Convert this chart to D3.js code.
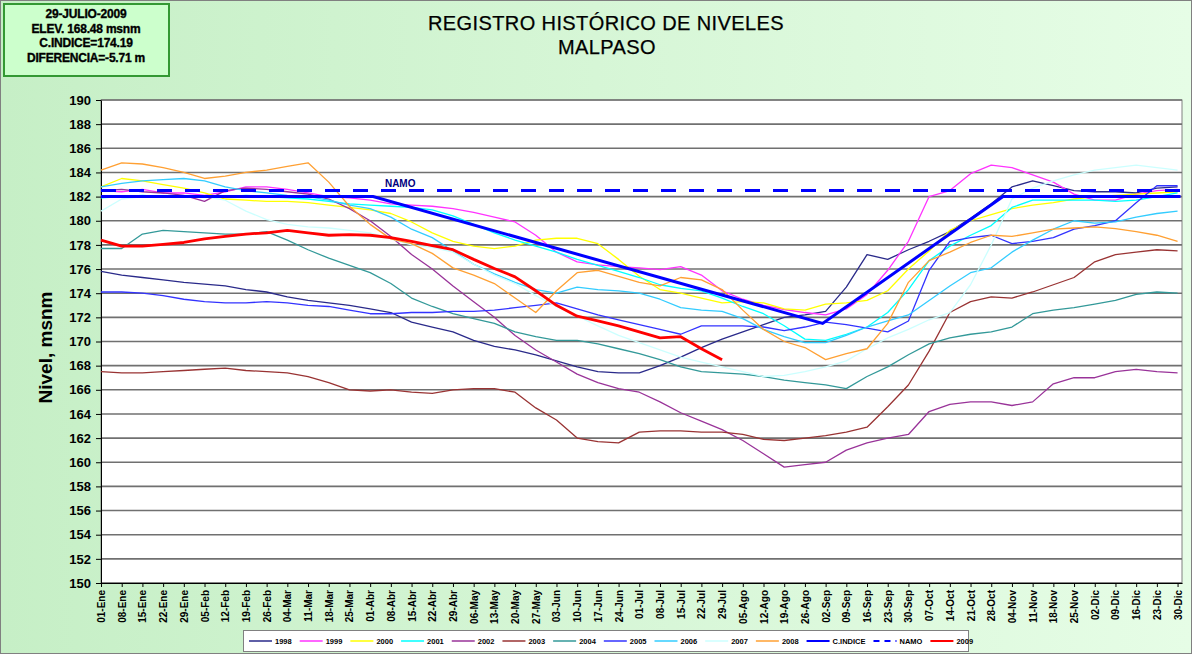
<!DOCTYPE html>
<html>
<head>
<meta charset="utf-8">
<script src="https://cdn.jsdelivr.net/npm/d3@7"></script>
<style>
  body { margin: 0; background: #fff; }
  svg { display: block; font-family: 'Liberation Sans', Arial, sans-serif; }
</style>
</head>
<body>
<svg id="chart" width="1200" height="654"></svg>
<script>
// weekly tick labels (one per 7 days, starting 01-Ene)
const tickLabels = [
  '01-Ene', '08-Ene', '15-Ene', '22-Ene', '29-Ene', '05-Feb', '12-Feb', '19-Feb', '26-Feb',
  '04-Mar', '11-Mar', '18-Mar', '25-Mar', '01-Abr', '08-Abr', '15-Abr', '22-Abr', '29-Abr',
  '06-May', '13-May', '20-May', '27-May', '03-Jun', '10-Jun', '17-Jun', '24-Jun',
  '01-Jul', '08-Jul', '15-Jul', '22-Jul', '29-Jul', '05-Ago', '12-Ago', '19-Ago', '26-Ago',
  '02-Sep', '09-Sep', '16-Sep', '23-Sep', '30-Sep', '07-Oct', '14-Oct', '21-Oct', '28-Oct',
  '04-Nov', '11-Nov', '18-Nov', '25-Nov', '02-Dic', '09-Dic', '16-Dic', '23-Dic', '30-Dic'
];
const yTicks = [150, 152, 154, 156, 158, 160, 162, 164, 166, 168, 170, 172, 174, 176, 178, 180, 182, 184, 186, 188, 190];

// levels (msnm) read at each weekly tick
const s1998 = [175.8, 175.5, 175.3, 175.1, 174.9, 174.75, 174.6, 174.3, 174.1, 173.7, 173.4, 173.2, 173.0, 172.7, 172.4, 171.6, 171.2, 170.8, 170.1, 169.6, 169.3, 168.9, 168.4, 167.9, 167.5, 167.4, 167.4, 168.0, 168.7, 169.5, 170.2, 170.8, 171.4, 172.0, 172.2, 172.5, 174.5, 177.2, 176.8, 177.6, 178.3, 179.1, 180.2, 181.4, 182.8, 183.3, 182.9, 182.5, 182.4, 182.4, 182.3, 182.7, 182.8];
const s1999 = [182.5, 182.4, 182.6, 182.3, 182.3, 182.1, 182.4, 182.8, 182.8, 182.6, 182.3, 182.0, 181.9, 181.7, 181.4, 181.3, 181.2, 181.0, 180.7, 180.3, 179.9, 178.8, 177.4, 176.6, 176.35, 176.2, 176.1, 175.95, 176.2, 175.5, 174.2, 173.5, 173.0, 172.65, 172.4, 172.2, 172.7, 173.9, 175.9, 178.3, 182.0, 182.5, 183.9, 184.6, 184.4, 183.8, 183.2, 182.2, 181.7, 181.7, 182.2, 182.5, 182.6];
const s2000 = [182.8, 183.5, 183.3, 183.0, 182.7, 182.3, 181.8, 181.7, 181.6, 181.6, 181.5, 181.3, 181.1, 180.9, 180.6, 179.9, 179.0, 178.3, 177.9, 177.7, 177.9, 178.4, 178.55, 178.55, 178.1, 176.8, 175.4, 174.3, 174.0, 173.6, 173.2, 173.3, 173.2, 172.7, 172.6, 173.1, 173.2, 173.4, 174.2, 176.0, 177.5, 179.2, 180.0, 180.5, 181.0, 181.3, 181.5, 181.8, 182.0, 182.1, 182.2, 182.3, 182.4];
const s2001 = [181.9, 182.0, 182.1, 182.0, 182.0, 182.0, 182.0, 182.1, 182.0, 181.9, 181.8, 181.6, 181.4, 181.3, 181.2, 181.1, 180.9, 180.4, 179.7, 179.0, 178.4, 177.9, 177.4, 176.8, 176.3, 175.8, 175.3, 174.7, 174.4, 174.2, 173.6, 172.9, 172.3, 171.3, 170.2, 170.1, 170.6, 171.2, 172.4, 174.3, 176.7, 177.9, 178.8, 179.6, 181.1, 181.7, 181.7, 181.7, 181.7, 181.6, 181.7, 182.0, 182.3];
const s2002 = [182.5, 182.6, 182.4, 182.3, 182.1, 181.6, 182.5, 182.7, 182.6, 182.4, 182.2, 181.8, 181.0, 180.0, 178.7, 177.2, 176.0, 174.6, 173.3, 172.0, 170.5, 169.3, 168.3, 167.3, 166.6, 166.1, 165.8, 165.0, 164.1, 163.4, 162.7, 161.8, 160.7, 159.6, 159.8, 160.0, 161.0, 161.6, 162.0, 162.3, 164.2, 164.8, 165.0, 165.0, 164.7, 165.0, 166.5, 167.0, 167.0, 167.5, 167.7, 167.5, 167.4];
const s2003 = [167.5, 167.4, 167.4, 167.5, 167.6, 167.7, 167.8, 167.6, 167.5, 167.4, 167.1, 166.6, 166.0, 165.9, 166.0, 165.8, 165.7, 166.0, 166.1, 166.1, 165.8, 164.5, 163.5, 162.0, 161.7, 161.6, 162.5, 162.6, 162.6, 162.5, 162.5, 162.3, 161.9, 161.8, 162.0, 162.2, 162.5, 162.9, 164.6, 166.4, 169.2, 172.4, 173.3, 173.7, 173.6, 174.1, 174.7, 175.3, 176.6, 177.2, 177.4, 177.6, 177.5];
const s2004 = [177.7, 177.7, 178.9, 179.2, 179.1, 179.0, 178.9, 178.9, 179.1, 178.4, 177.6, 176.9, 176.3, 175.7, 174.8, 173.6, 172.9, 172.3, 171.9, 171.5, 170.8, 170.4, 170.1, 170.1, 169.8, 169.4, 169.0, 168.5, 167.9, 167.5, 167.4, 167.3, 167.1, 166.8, 166.6, 166.4, 166.1, 167.1, 167.9, 168.9, 169.8, 170.3, 170.6, 170.8, 171.2, 172.3, 172.6, 172.8, 173.1, 173.4, 173.9, 174.1, 174.0];
const s2005 = [174.1, 174.1, 174.0, 173.8, 173.5, 173.3, 173.2, 173.2, 173.3, 173.2, 173.0, 172.9, 172.6, 172.3, 172.3, 172.4, 172.4, 172.5, 172.5, 172.6, 172.8, 173.0, 173.2, 172.7, 172.2, 171.8, 171.4, 171.0, 170.6, 171.3, 171.3, 171.3, 171.2, 170.9, 171.2, 171.6, 171.4, 171.1, 170.8, 171.7, 175.9, 178.3, 178.6, 178.8, 178.1, 178.3, 178.6, 179.3, 179.6, 180.0, 181.5, 182.9, 182.9];
const s2006 = [182.8, 183.1, 183.3, 183.4, 183.5, 183.3, 182.8, 182.5, 182.3, 182.1, 182.0, 181.7, 181.3, 181.0, 180.3, 179.3, 178.6, 177.5, 176.4, 175.6, 174.9, 174.3, 174.0, 174.5, 174.3, 174.2, 174.0, 173.5, 172.8, 172.6, 172.5, 171.9, 171.0, 170.4, 169.9, 169.9, 170.5, 171.2, 171.7, 172.2, 173.4, 174.6, 175.7, 176.1, 177.4, 178.4, 179.3, 180.0, 179.8, 179.9, 180.3, 180.6, 180.8];
const s2007 = [180.8, 181.8, 182.0, 182.0, 182.0, 182.0, 181.7, 180.8, 180.1, 179.7, 179.5, 179.4, 179.2, 179.0, 178.5, 178.0, 177.8, 177.4, 176.4, 175.5, 174.8, 173.8, 172.9, 172.1, 171.3, 170.5, 169.9, 169.3, 168.7, 168.3, 167.9, 167.5, 167.1, 167.2, 167.5, 167.9, 168.4, 169.4, 170.3, 171.0, 171.8, 172.4, 174.7, 178.0, 181.8, 182.7, 183.3, 183.8, 184.2, 184.4, 184.6, 184.4, 184.2];
const s2008 = [184.2, 184.8, 184.7, 184.4, 184.0, 183.5, 183.7, 184.0, 184.2, 184.5, 184.8, 183.2, 181.2, 179.7, 178.5, 178.1, 177.3, 176.1, 175.5, 174.8, 173.6, 172.4, 174.2, 175.7, 175.9, 175.4, 174.9, 174.6, 175.3, 175.1, 174.3, 172.6, 171.0, 170.0, 169.5, 168.5, 169.0, 169.4, 171.5, 174.9, 176.7, 177.4, 178.2, 178.8, 178.7, 179.0, 179.3, 179.4, 179.5, 179.35, 179.1, 178.8, 178.3];
const s2009 = [178.4, 177.9, 177.9, 178.05, 178.2, 178.5, 178.7, 178.9, 179.0, 179.2, 179.0, 178.8, 178.85, 178.8, 178.6, 178.3, 177.95, 177.6, 176.8, 176.05, 175.35, 174.2, 173.0, 172.1, 171.7, 171.3, 170.8, 170.3, 170.4, 169.4, 168.48];

// curva guia (C.INDICE) break points, day of year -> level
const cIndiceDays = [0, 92, 244, 305, 365];
const cIndiceValues = [182, 182, 171.5, 182, 182];
const namoLevel = 182.5;

const yearNames = ['1998', '1999', '2000', '2001', '2002', '2003', '2004', '2005', '2006', '2007', '2008'];
const yearSeries = [s1998, s1999, s2000, s2001, s2002, s2003, s2004, s2005, s2006, s2007, s2008];
const yearColors = ['#2a2a8a', '#ff33ff', '#ffff00', '#00ffff', '#993399', '#993333', '#339999', '#3333ff', '#33ccff', '#ccffff', '#ffa033'];

const infoLines = ['29-JULIO-2009', 'ELEV. 168.48 msnm', 'C.INDICE=174.19', 'DIFERENCIA=-5.71 m'];

const width = 1200;
const height = 654;
const margin = { top: 100, right: 18, bottom: 71, left: 101 };

const x = d3.scaleLinear()
  .domain([0, 365.5])
  .range([margin.left, width - margin.right]);

const y = d3.scaleLinear()
  .domain([150, 190])
  .range([height - margin.bottom, margin.top]);

const svg = d3.select('#chart')
  .attr('viewBox', [0, 0, width, height]);

const defs = svg.append('defs');
const grad = defs.append('linearGradient')
  .attr('id', 'bg')
  .attr('x1', 0).attr('y1', 0).attr('x2', 1).attr('y2', 0);
grad.append('stop').attr('offset', '0%').attr('stop-color', '#c6efc6');
grad.append('stop').attr('offset', '100%').attr('stop-color', '#e6fde6');

svg.append('rect')
  .attr('x', 0.5).attr('y', 0.5)
  .attr('width', 1191).attr('height', 653)
  .attr('fill', 'url(#bg)')
  .attr('stroke', '#808080');

// info box
svg.append('rect')
  .attr('x', 4).attr('y', 4)
  .attr('width', 165).attr('height', 72)
  .attr('fill', '#ccffcc')
  .attr('stroke', '#339933')
  .attr('stroke-width', 2);

svg.append('g')
  .attr('font-size', 12)
  .attr('font-weight', 'bold')
  .attr('text-anchor', 'middle')
  .attr('stroke', '#000')
  .attr('stroke-width', 0.35)
  .attr('letter-spacing', -0.2)
  .selectAll('text')
  .data(infoLines)
  .join('text')
  .attr('x', 86)
  .attr('y', (d, i) => 18 + i * 14.5)
  .text(d => d);

// title
svg.append('text')
  .attr('x', 606).attr('y', 30)
  .attr('text-anchor', 'middle')
  .attr('font-size', 20)
  .attr('letter-spacing', 0.4)
  .attr('stroke', '#000')
  .attr('stroke-width', 0.25)
  .text('REGISTRO HISTÓRICO DE NIVELES');
svg.append('text')
  .attr('x', 607).attr('y', 54)
  .attr('text-anchor', 'middle')
  .attr('font-size', 20)
  .attr('letter-spacing', 0.4)
  .attr('stroke', '#000')
  .attr('stroke-width', 0.25)
  .text('MALPASO');

// plot area
svg.append('rect')
  .attr('x', x(0)).attr('y', y(190))
  .attr('width', x(365.5) - x(0)).attr('height', y(150) - y(190))
  .attr('fill', '#fff')
  .attr('stroke', '#808080');

svg.append('g')
  .selectAll('line')
  .data(yTicks)
  .join('line')
  .attr('x1', x(0)).attr('x2', x(365.5))
  .attr('y1', d => y(d)).attr('y2', d => y(d))
  .attr('stroke', '#707070')
  .attr('stroke-width', 1.6);

const xAxis = g => g
  .attr('transform', `translate(0,${y(150)})`)
  .call(d3.axisBottom(x)
    .tickValues(tickLabels.map((d, i) => i * 7))
    .tickFormat((d, i) => tickLabels[i])
    .tickSize(4)
    .tickSizeOuter(0))
  .call(g => g.select('.domain').attr('stroke', '#000'))
  .call(g => g.selectAll('.tick line').attr('stroke', '#000'))
  .call(g => g.selectAll('.tick text')
    .attr('transform', 'rotate(-90)')
    .attr('text-anchor', 'end')
    .attr('x', -7)
    .attr('y', 0)
    .attr('dy', '0.35em')
    .attr('font-size', 10)
    .attr('font-weight', 'bold')
    .attr('font-family', "'Liberation Sans', Arial, sans-serif")
    .attr('fill', '#000'));

const yAxis = g => g
  .attr('transform', `translate(${x(0)},0)`)
  .call(d3.axisLeft(y)
    .tickValues(yTicks)
    .tickSize(5)
    .tickPadding(5)
    .tickSizeOuter(0))
  .call(g => g.select('.domain').attr('stroke', '#000'))
  .call(g => g.selectAll('.tick line').attr('stroke', '#000'))
  .call(g => g.selectAll('.tick text')
    .attr('font-size', 13)
    .attr('font-weight', 'bold')
    .attr('font-family', "'Liberation Sans', Arial, sans-serif")
    .attr('fill', '#000'));

svg.append('g').call(xAxis);
svg.append('g').call(yAxis);

svg.append('text')
  .attr('transform', `translate(52,${(y(150) + y(190)) / 2 + 6}) rotate(-90)`)
  .attr('text-anchor', 'middle')
  .attr('font-size', 19)
  .attr('font-weight', 'bold')
  .text('Nivel, msnm');

// series
const line = d3.line()
  .defined(d => d.v != null)
  .x(d => x(d.day))
  .y(d => y(d.v));

const plot = svg.append('g');

yearSeries.forEach((vals, k) => {
  plot.append('path')
    .datum(vals.map((v, i) => ({ day: i * 7, v })))
    .attr('fill', 'none')
    .attr('stroke', yearColors[k])
    .attr('stroke-width', 1.3)
    .attr('stroke-linejoin', 'round')
    .attr('d', line);
});

plot.append('path')
  .datum(cIndiceDays.map((d, i) => ({ day: d, v: cIndiceValues[i] })))
  .attr('fill', 'none')
  .attr('stroke', '#0000ff')
  .attr('stroke-width', 3)
  .attr('d', line);

plot.append('path')
  .datum([{ day: 0, v: namoLevel }, { day: 365.5, v: namoLevel }])
  .attr('fill', 'none')
  .attr('stroke', '#0000ff')
  .attr('stroke-width', 3)
  .attr('stroke-dasharray', '15,13')
  .attr('d', line);

svg.append('text')
  .attr('x', x(96)).attr('y', y(namoLevel) - 4)
  .attr('font-size', 10)
  .attr('font-weight', 'bold')
  .attr('fill', '#000080')
  .text('NAMO');

plot.append('path')
  .datum(s2009.map((v, i) => ({ day: i * 7, v })))
  .attr('fill', 'none')
  .attr('stroke', '#ff0000')
  .attr('stroke-width', 2.8)
  .attr('stroke-linejoin', 'round')
  .attr('d', line);

// legend
const legendItems = yearNames.map((n, i) => ({ name: n, color: yearColors[i], w: 1.5, dash: null }))
  .concat([
    { name: 'C.INDICE', color: '#0000ff', w: 2, dash: null },
    { name: 'NAMO', color: '#0000ff', w: 2, dash: '6,5' },
    { name: '2009', color: '#ff0000', w: 2, dash: null }
  ]);

const legend = svg.append('g');
legend.append('rect')
  .attr('x', 243.5).attr('y', 630.5)
  .attr('width', 725).attr('height', 21)
  .attr('fill', '#fff')
  .attr('stroke', '#808080');

let lx = 249;
legendItems.forEach(item => {
  legend.append('line')
    .attr('x1', lx).attr('x2', lx + 23)
    .attr('y1', 641).attr('y2', 641)
    .attr('stroke', item.color)
    .attr('stroke-width', item.w)
    .attr('stroke-dasharray', item.dash);
  const t = legend.append('text')
    .attr('x', lx + 26).attr('y', 644)
    .attr('font-size', 7.5)
    .attr('font-weight', 'bold')
    .text(item.name);
  lx += 26 + t.node().getComputedTextLength() + 8;
});
</script>
</body>
</html>
